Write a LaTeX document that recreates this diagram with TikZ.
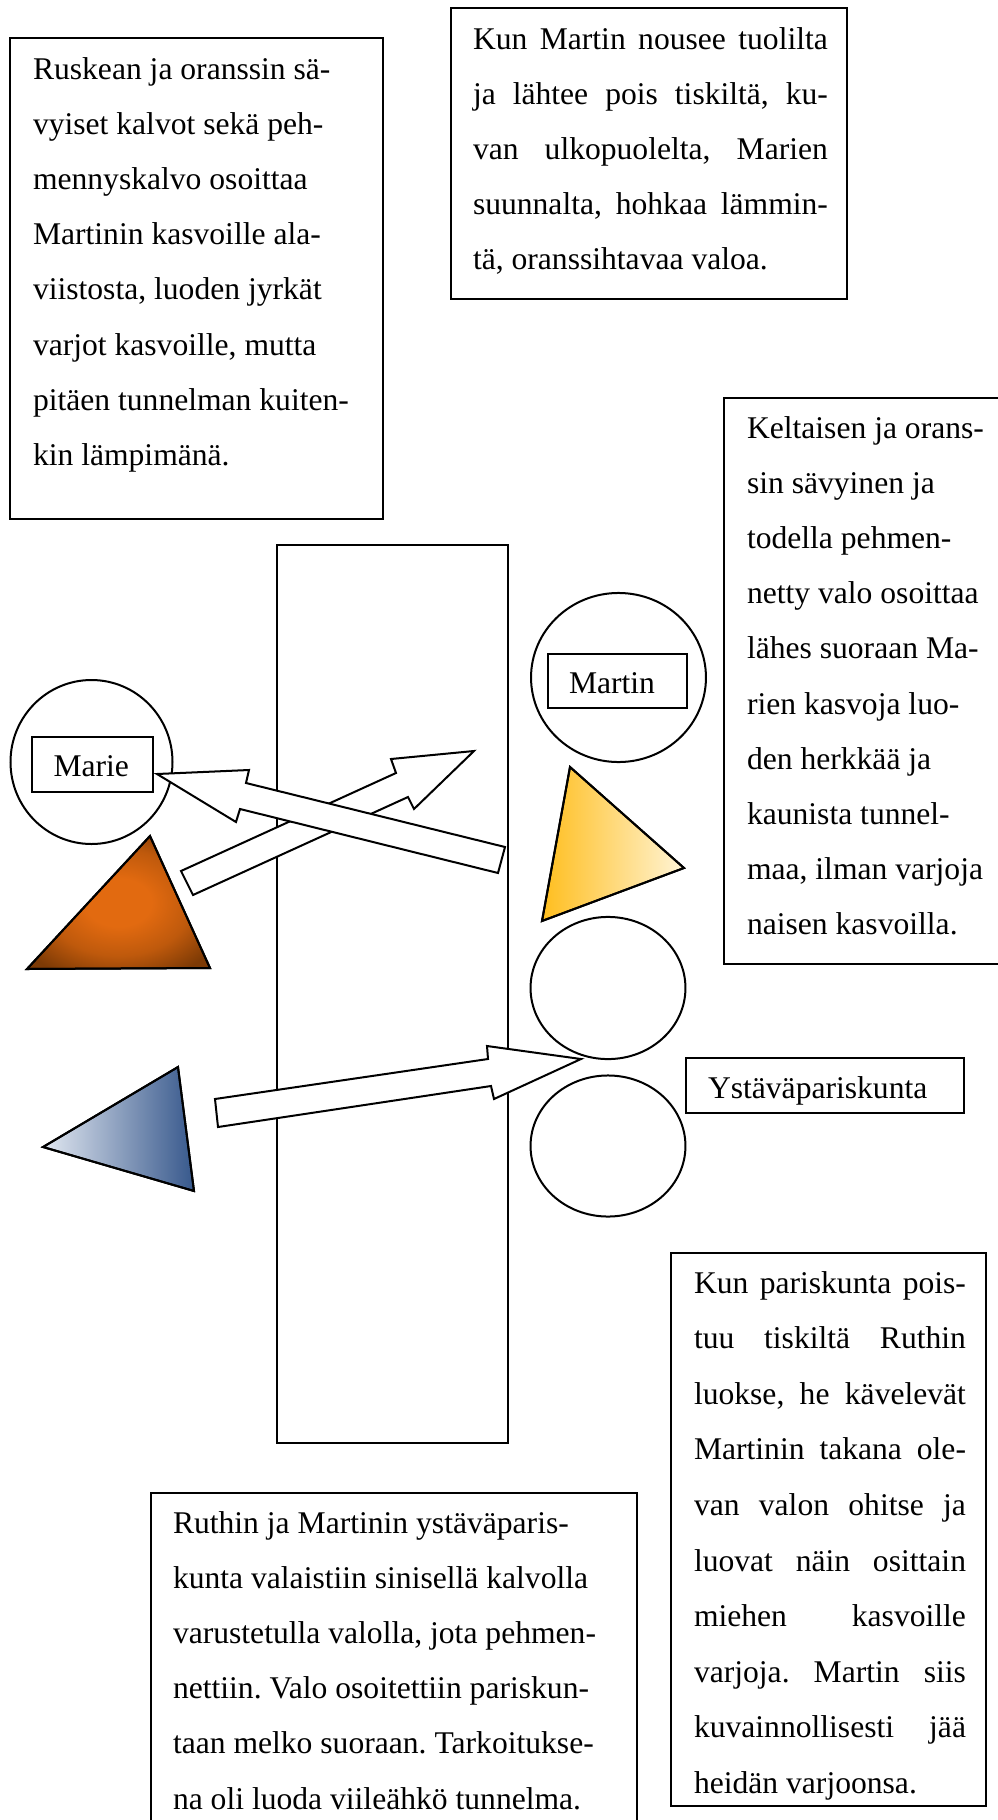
\documentclass[tikz,border=0pt]{standalone}
\usepackage{fontspec}
\setmainfont{Liberation Serif}
\usetikzlibrary{shapes.geometric}
\definecolor{brownOut}{RGB}{125,58,5}
\definecolor{brownIn}{RGB}{226,106,16}
\definecolor{yelL}{RGB}{255,190,30}
\definecolor{yelR}{RGB}{255,244,214}
\definecolor{bluL}{RGB}{226,232,241}
\definecolor{bluR}{RGB}{55,88,140}
\pgfdeclareradialshading{brownglow}{\pgfpoint{0bp}{0bp}}{color(0bp)=(brownIn); color(9bp)=(brownIn); color(20bp)=(brownIn!65!brownOut); color(31bp)=(brownOut); color(50bp)=(brownOut)}
\frenchspacing
\begin{document}
\begin{tikzpicture}[x=0.375pt,y=-0.375pt,line width=0.75pt,
  textframe/.style={draw=black,line width=0.8pt},
  txt/.style={anchor=base west,inner sep=0pt,font=\fontsize{11.85pt}{20.7pt}\selectfont},
  facecircle/.style={ellipse,draw=black,fill=white,inner sep=0pt,line width=0.75pt},
  namebox/.style={draw=black,rectangle,inner sep=0pt,anchor=north west,line width=0.75pt},
  blockarrow/.style={draw=black,fill=white,line width=0.75pt,line join=miter},
  lamp/.style={draw=black,line width=0.75pt,line join=miter}]
\useasboundingbox (0,0) rectangle (998,1820);

% counter / column
\node[namebox,minimum width=86.6pt,minimum height=336.75pt] (column) at (276,544) {};

% text box: left top
\draw[textframe] (10,38) rectangle (383,519);
\node[txt] (t1) at (32,79) {\parbox[t]{150pt}{Ruskean ja oranssin sä-\\
vyiset kalvot sekä peh-\\
mennyskalvo osoittaa\\
Martinin kasvoille ala-\\
viistosta, luoden jyrkät\\
varjot kasvoille, mutta\\
pitäen tunnelman kuiten-\\
kin lämpimänä.}};

% text box: top middle (justified)
\draw[textframe] (451,8) rectangle (847,299);
\node[txt] (t2) at (472,49) {\parbox[t]{133.1pt}{\makebox[\linewidth][s]{Kun Martin nousee tuolilta}\\
\makebox[\linewidth][s]{ja lähtee pois tiskiltä, ku-}\\
\makebox[\linewidth][s]{van ulkopuolelta, Marien}\\
\makebox[\linewidth][s]{suunnalta, hohkaa lämmin-}\\
tä, oranssihtavaa valoa.}};

% text box: right
\draw[textframe] (1005,398) -- (724,398) -- (724,964) -- (1005,964);
\node[txt] (t3) at (746,438) {\parbox[t]{110pt}{Keltaisen ja orans-\\
sin sävyinen ja\\
todella pehmen-\\
netty valo osoittaa\\
lähes suoraan Ma-\\
rien kasvoja luo-\\
den herkkää ja\\
kaunista tunnel-\\
maa, ilman varjoja\\
naisen kasvoilla.}};

% text box: bottom right (justified)
\draw[textframe] (671,1253) rectangle (986,1806);
\node[txt,font=\fontsize{11.85pt}{20.85pt}\selectfont] (t4) at (693,1293) {\parbox[t]{102pt}{\makebox[\linewidth][s]{Kun pariskunta pois-}\\
\makebox[\linewidth][s]{tuu tiskiltä Ruthin}\\
\makebox[\linewidth][s]{luokse, he kävelevät}\\
\makebox[\linewidth][s]{Martinin takana ole-}\\
\makebox[\linewidth][s]{van valon ohitse ja}\\
\makebox[\linewidth][s]{luovat näin osittain}\\
\makebox[\linewidth][s]{miehen kasvoille}\\
\makebox[\linewidth][s]{varjoja. Martin siis}\\
\makebox[\linewidth][s]{kuvainnollisesti jää}\\
heidän varjoonsa.}};

% text box: bottom left
\draw[textframe] (151,1830) -- (151,1493) -- (637,1493) -- (637,1830);
\node[txt] (t5) at (172,1533) {\parbox[t]{190pt}{Ruthin ja Martinin ystäväparis-\\
kunta valaistiin sinisellä kalvolla\\
varustetulla valolla, jota pehmen-\\
nettiin. Valo osoitettiin pariskun-\\
taan melko suoraan. Tarkoitukse-\\
na oli luoda viileähkö tunnelma.}};

% persons
\node[facecircle,minimum width=60.75pt,minimum height=61.5pt] (marie) at (91.5,762) {};
\node[namebox,minimum width=45.4pt,minimum height=20.6pt] (mariebox) at (31,736) {};
\node[txt] (marietext) at (52.5,776) {Marie};

\node[facecircle,minimum width=65.6pt,minimum height=63.4pt] (martin) at (618.5,677.5) {};
\node[namebox,minimum width=52.1pt,minimum height=20.5pt] (martinbox) at (546.7,652.7) {};
\node[txt] (martintext) at (568,693) {Martin};

\node[facecircle,minimum width=58.1pt,minimum height=53.3pt] (friend1) at (608,988) {};
\node[facecircle,minimum width=58.1pt,minimum height=52.9pt] (friend2) at (608,1146) {};
\node[namebox,minimum width=104.25pt,minimum height=20.6pt] (couplebox) at (685,1057) {};
\node[txt] (coupletext) at (707,1098) {Ystäväpariskunta};

% lamps
\shade[lamp,shading=brownglow] (150,836) -- (27,969) -- (210,968) -- cycle;
\draw[lamp] (150,836) -- (27,969) -- (210,968) -- cycle;
\shade[lamp,left color=yelL,right color=yelR] (570,767) -- (684,868) -- (542,921) -- cycle;
\draw[lamp] (570,767) -- (684,868) -- (542,921) -- cycle;
\shade[lamp,left color=bluL,right color=bluR] (178,1067) -- (43,1147) -- (194,1191) -- cycle;
\draw[lamp] (178,1067) -- (43,1147) -- (194,1191) -- cycle;

% light beams (block arrows)
\filldraw[blockarrow] (193,895) -- (181,871) -- (396,773) -- (391,759) -- (474,751) -- (414,809) -- (408,797) -- cycle;
\filldraw[blockarrow] (157,774) -- (249,770) -- (246,783) -- (505,847) -- (498,873) -- (240,809) -- (236,822) -- cycle;
\filldraw[blockarrow] (215,1099) -- (488,1059) -- (487,1046) -- (581,1059) -- (494,1099) -- (491,1086) -- (218,1127) -- cycle;
\end{tikzpicture}
\end{document}
